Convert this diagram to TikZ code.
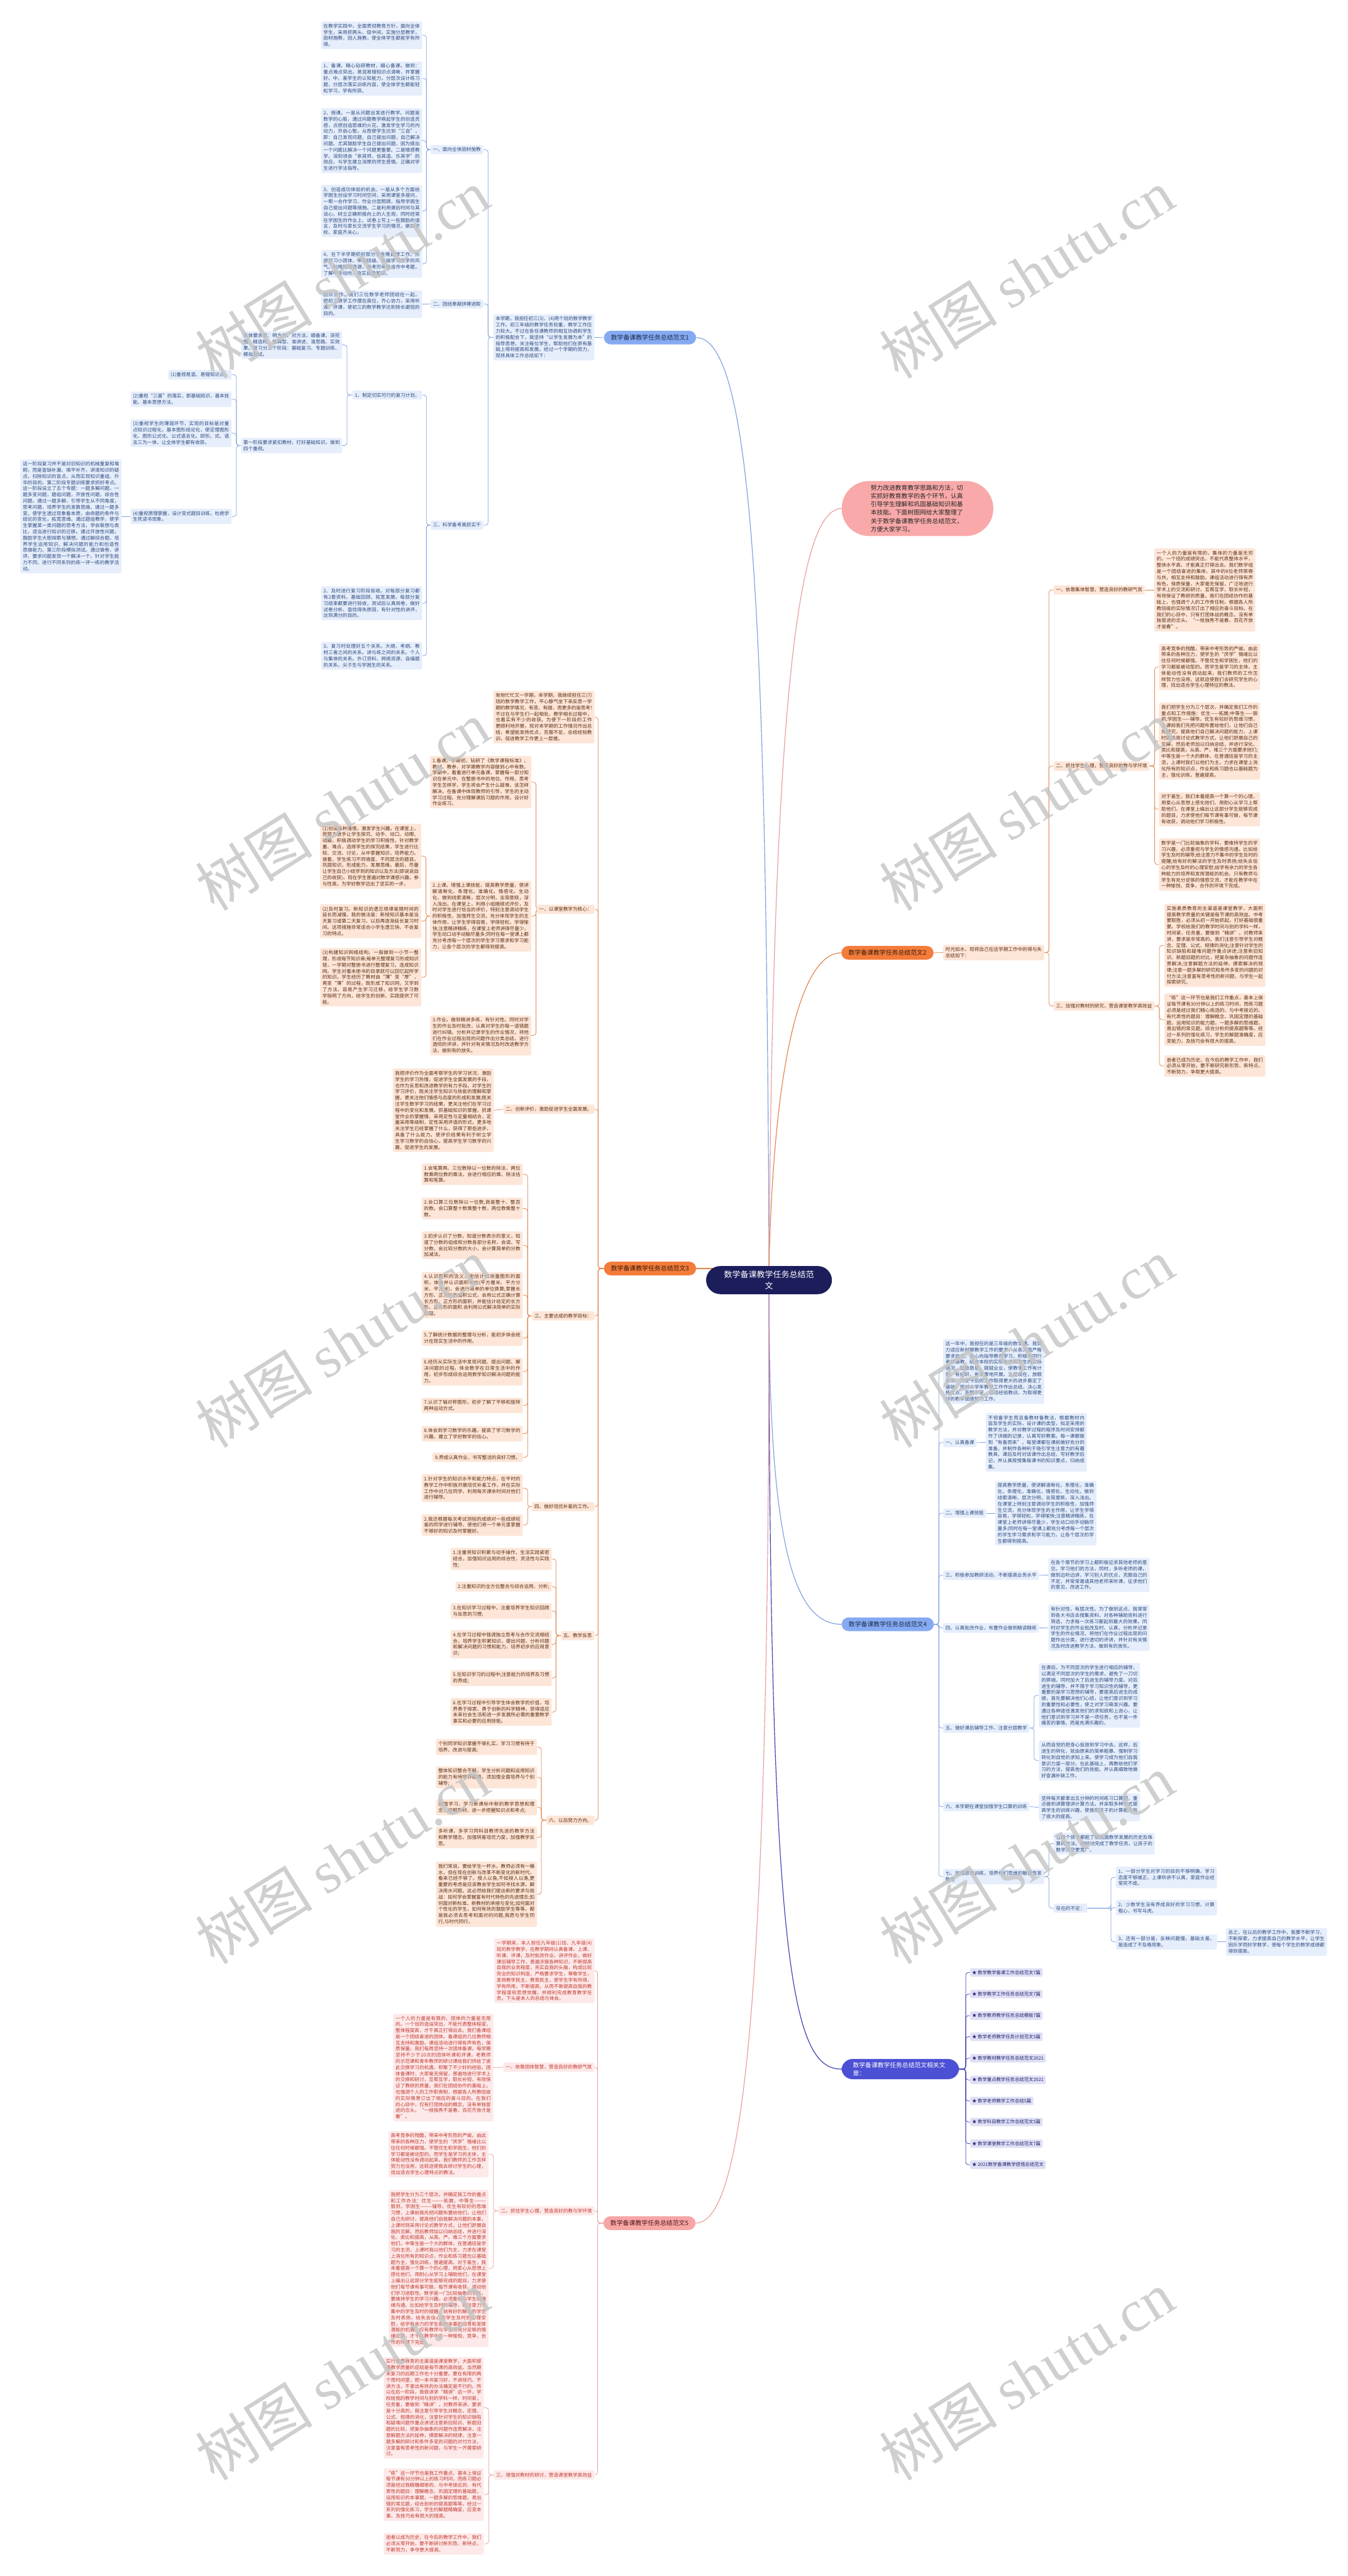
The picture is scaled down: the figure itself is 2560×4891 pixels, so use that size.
\documentclass[tikz,border=0pt]{standalone}
\usepackage{fontspec}
\setmainfont{Noto Sans CJK SC}
\newfontfamily\wmlatin{Liberation Serif}
\usetikzlibrary{positioning, calc}
\XeTeXlinebreaklocale "zh"
\XeTeXlinebreakskip = 0pt plus 1pt minus 0.45pt

\definecolor{blueFill}{HTML}{E6EEFC}
\definecolor{blueText}{HTML}{2C4A7C}
\definecolor{blueLine}{HTML}{7EA0E0}
\definecolor{blueMain}{HTML}{86AAF2}
\definecolor{orFill}{HTML}{FDE6D8}
\definecolor{orText}{HTML}{5C2E12}
\definecolor{orLine}{HTML}{E2844A}
\definecolor{orMain}{HTML}{F47C3B}
\definecolor{pkFill}{HTML}{FDE9E9}
\definecolor{pkText}{HTML}{C23A30}
\definecolor{pkLine}{HTML}{EA9C9C}
\definecolor{pkMain}{HTML}{F7A6A6}
\definecolor{navyMain}{HTML}{1C1E5C}
\definecolor{relMain}{HTML}{4C50D4}
\definecolor{relFill}{HTML}{E0E0F6}
\definecolor{relText}{HTML}{23236B}
\definecolor{relLine}{HTML}{3C40B4}
\definecolor{sumFill}{HTML}{F9A9A9}
\definecolor{wmGray}{HTML}{C4C4C4}

\newcommand{\fs}{\fontsize{9.1}{11.7}\selectfont}
\newcommand{\fm}{\fontsize{11.8}{15}\selectfont}

\pgfdeclarelayer{bg}
\pgfsetlayers{bg,main}

\tikzset{
  txtbox/.style={rounded corners=3pt, inner xsep=4.5pt, inner ysep=4.5pt, font=\fs, align=justify, text width=#1},
  txtbox/.default=183pt,
  txtlbl/.style={rounded corners=3pt, inner xsep=4.5pt, inner ysep=4.5pt, font=\fs},
  bbox/.style={txtbox=#1, fill=blueFill, text=blueText}, bbox/.default=183pt,
  blbl/.style={txtlbl, fill=blueFill, text=blueText},
  obox/.style={txtbox=#1, fill=orFill, text=orText}, obox/.default=183pt,
  olbl/.style={txtlbl, fill=orFill, text=orText},
  pbox/.style={txtbox=#1, fill=pkFill, text=pkText}, pbox/.default=181pt,
  plbl/.style={txtlbl, fill=pkFill, text=pkText},
  relitem/.style={txtlbl, fill=relFill, text=relText, inner xsep=4pt, inner ysep=4pt, font=\fontsize{8.8}{10}\selectfont},
  mainnode/.style={rounded corners=13pt, minimum height=26pt, minimum width=175pt, inner sep=0pt, font=\fm},
  bconn/.style={draw=blueLine, line width=0.9pt, rounded corners=5pt},
  oconn/.style={draw=orLine, line width=0.9pt, rounded corners=5pt},
  pconn/.style={draw=pkLine, line width=0.9pt, rounded corners=5pt},
  rconn/.style={draw=relLine, line width=0.9pt, rounded corners=5pt},
  wmark/.style={rotate=32, text=wmGray, opacity=0.8, inner sep=0pt, font=\fontsize{112}{112}\selectfont}
}

\begin{document}
\begin{tikzpicture}[x=1pt, y=-1pt]
\useasboundingbox (0,0) rectangle (2560,4891);
\begin{pgfonlayer}{bg}
  \fill[white] (0,0) rectangle (2560,4891);
\end{pgfonlayer}

% centre and summary
\node[fill=navyMain, text=white, rounded corners=27pt, text width=172pt, align=center,
      inner xsep=33.5pt, inner ysep=9pt, font=\fontsize{15.5}{21}\selectfont] (nc) at (1460.5,2430.5)
      {数学备课教学任务总结范\\文};
\node[fill=sumFill, text=black!85, rounded corners=52pt, text width=178pt, align=left,
      inner xsep=55pt, inner ysep=7.5pt, font=\fontsize{11.7}{15.7}\selectfont] (n0) at (1742.5,965.5)
      {努力改进教育教学思路和方法，切\\实抓好教育教学的各个环节，认真\\引导学生理解和巩固基础知识和基\\本技能。下面树图网给大家整理了\\关于数学备课教学任务总结范文，\\方便大家学习。};

% ---------------- 范文1 ----------------
\node[mainnode, fill=blueMain, text=blueText!60!black] (n1) at (1234.5,641) {数学备课教学任务总结范文1};
\node[bbox, anchor=east] (n1i) at (1129,640.5) {本学期，我担任初三(3)、(4)两个班的数学教学工作。初三年级的教学任务较重，教学工作压力较大。不过在各任课教师的相互协调和学生的积极配合下，我坚持“以学生发展为本”的指导思想，关注每位学生，帮助他们在原有基础上得到提高和发展。经过一个学期的努力，现将具体工作总结如下：};
\node[blbl, anchor=east] (n1a) at (918,284) {一、面向全体因材施教};
\node[blbl, anchor=east] (n1b) at (918,577) {二、团结奉献拼搏进取};
\node[blbl, anchor=east] (n1c) at (918,997) {三、科学备考真抓实干};
\node[bbox, anchor=east] (n1a1) at (802,67) {在教学实践中，全面贯彻教育方针，面向全体学生，采用抓两头、促中间，实施分层教学，因材施教，因人施教，使全体学生都能学有所得。};
\node[bbox, anchor=east] (n1a2) at (802,149) {1、备课。精心钻研教材，细心备课。做到：重点难点突出，易混易错知识点清晰，并掌握好、中、差学生的认知能力，分层次设计练习题，分层次落实训练内容，使全体学生都能轻松学习，学有所获。};
\node[bbox, anchor=east] (n1a3) at (802,267) {2、授课。一是从问题出发进行教学。问题是数学的心脏，通过问题教学唤起学生的创造灵感，点燃创造思维的火花，激发学生学习的内动力，开启心智。从而使学生达到“三自”，即：自己发现问题，自己提出问题，自己解决问题。尤其鼓励学生自己提出问题，因为提出一个问题比解决一个问题更重要。二是情感教学。深刻领会“亲其师、信其道、乐其学”的效应，与学生建立深厚的师生感情。正确对学生进行学法指导。};
\node[bbox, anchor=east] (n1a4) at (802,400.5) {3、创造成功体验的机会。一是从多个方面给学困生创设学习时间空间，采用课堂多提问，一帮一合作学习，作业分层照顾，指导学困生自己提出问题等措施。二是利用课后时间与其谈心，树立正确积极向上的人生观，同时经常在学困生的作业上、试卷上写上一些鼓励的语言，及时与家长交流学生学习的情况，做到学校、家庭齐关心。};
\node[bbox, anchor=east] (n1a5) at (802,501) {4、在下半学期抓好部分学生晚自修工作。形成学习小团体，带动班级、年级学习数学的风气。利用网络资源，参考历年各省市中考题，了解中考动向，充实自身知识。};
\node[bbox, anchor=east] (n1b1) at (802,577.5) {团队合作。我们三位数学老师团结在一起，把初三教学工作摆在首位，齐心协力，采用听课、评课，使初三的数学教学达到扬长避短的目的。};
\node[blbl, anchor=east] (n1c1) at (802,750) {1、制定切实可行的复习计划。};
\node[bbox, anchor=east] (n1c2) at (802,1145.5) {2、及时进行复习阶段验收。对每部分复习都有2套资料，基础回顾，拓宽发展。每部分复习结束都要进行验收，测试后认真阅卷，做好试卷分析、查找得失原因，有针对性的讲评，达到满分的目的。};
\node[bbox, anchor=east] (n1c3) at (802,1245) {3、复习时处理好五个关系。大纲、考纲、教材三者之间的关系。讲与练之间的关系。个人与集体的关系。外订资料、网络资源、自编题的关系。尖子生与学困生的关系。};
\node[bbox, anchor=east] (n1c1a) at (650,655) {具体要求是：明方向、对方法、细备课、深挖掘、精选材、强典型、准讲述、清思路、实效果。复习分三个阶段：基础复习、专题训练、模拟测试。};
\node[bbox, anchor=east] (n1c1b) at (650,846) {第一阶段要求紧扣教材，打好基础知识，做到四个重视。};
\node[blbl, anchor=east] (n1p1) at (440,711.5) {(1)重视易混、易错知识点。};
\node[bbox, anchor=east] (n1p2) at (440,758) {(2)重视“三基”的落实，即基础知识、基本技能、基本思想方法。};
\node[bbox, anchor=east] (n1p3) at (440,822.5) {(3)重视学生的薄弱环节，实现的目标是对重点知识过程化，基本图形结论化，使定理图形化、图形公式化、公式语言化，即形、式、语言三为一体，让全体学生都有收获。};
\node[bbox, anchor=east] (n1p4) at (440,980.5) {(4)重视原理掌握，设计变式题目训练，杜绝学生死读书现象。};
\node[bbox, anchor=east] (n1p4a) at (231,980.5) {这一阶段复习并不是对旧知识的机械重复和堆砌，而是查缺补漏、填平补齐，讲清知识的疑点，扫除知识的盲点，从而实现知识重组、升华的目的。第二阶段专题训练要求抓好考点。这一阶段设立了五个专题：一题多解问题，一题多变问题，题组问题，开放性问题，综合性问题。通过一题多解，引导学生从不同角度，思考问题，培养学生的发散思维。通过一题多变，使学生透过现象看本质，由命题的条件与结论的变化，拓宽思维。通过题组教学，使学生掌握某一类问题的思考方法，学会联想与类比，适当进行知识的迁移。通过开放性问题，鼓励学生大胆探索与猜想。通过解综合题，培养学生运用知识、解决问题的能力和创造性思维能力。第三阶段模拟测试。通过做卷，讲评，要求问题发现一个解决一个。针对学生能力不同，进行不同系列的练一评一练的教学活动。};

% ---------------- 范文2 ----------------
\node[mainnode, fill=orMain, text=orText!60!black] (n2) at (1685.5,1809) {数学备课教学任务总结范文2};
\node[obox, anchor=west] (n2i) at (1791,1808.5) {时光如水，现将自己在这学期工作中的得与失总结如下：};
\node[olbl, anchor=west] (n2a) at (2001,1120) {一、依靠集体智慧，营造良好的教研气氛};
\node[obox, anchor=west] (n2a1) at (2192,1120) {一个人的力量是有限的，集体的力量是无穷的。一个班的成绩突出，不能代表整体水平，整体水平高，才能真正打得出去。我们数学组是一个团结奋进的集体，其中的8位老师荣辱与共，相互支持和鼓励。课组活动进行得有声有色，保质保量，大家毫无保留，广泛地进行学术上的交流和研讨，互帮互学，取长补短，有效保证了教研的质量。我们在团结协作的基础上，也强调个人的工作责任制，根据各人所教班级的实际情况订出了相应的奋斗目标。在我们的心目中，只有打团体战的概念，没有单独冒进的念头。“一枝独秀不是春，百花齐放才是春”。};
\node[olbl, anchor=west] (n2b) at (2001,1454.5) {二、抓住学生心理，营造良好的教与学环境};
\node[obox, anchor=west] (n2b1) at (2201,1266.5) {高考竞争的残酷，带来中考形势的严峻。由此带来的各种压力，使学生的“厌学”情绪比以往任何时候都强。不管优生和学困生，他们的学习都是被动型的。而学生是学习的主体，主体能动性没有调动起来，我们教师的工作怎样努力也没用，这就迫使我们去研究学生的心理，找出适合学生心理特征的教法。};
\node[obox, anchor=west] (n2b2) at (2201,1407) {我们把学生分为三个层次，并确定我们工作的重点和工作措施：优生——拓展;中等生——狠抓;学困生——辅导。优生有较好的思维习惯，上课前我们先把问题布置给他们，让他们自己先研究，提高他们自己解决问题的能力，上课时则采用讨论式教学方式，让他们舒展自己的见解，然后老师加以归纳总结，并进行深化、类比和提高，从高、严、难三个方面要求他们;中等生是一个大的群体，在普通班是学习的主流，上课时我们以他们为主，力求在课堂上消化所有的知识点，作业和练习题也以基础题为主，强化训练，普遍提高。};
\node[obox, anchor=west] (n2b3) at (2201,1536.5) {对于差生，我们本着提高一个算一个的心理，用爱心从思想上感化他们，用耐心从学习上帮助他们，在课堂上编出让这部分学生能够完成的题目，力求使他们每节课有事可做，每节课有收获，调动他们学习积极性。};
\node[obox, anchor=west] (n2b4) at (2201,1641.5) {数学是一门比较抽象的学科，要维持学生的学习兴趣，必须重视与学生的情感沟通。比如给学生及时的辅导;给注意力不集中的学生及时的提醒;给有好的解法的学生及时表扬;给失去信心的学生及时的心理安慰;给学有余力的学生各种能力的培养和发挥潜能的机会。只有教师与学生有充分足够的情感交流，才能在教学中在一种愉悦、竞争、合作的环境下完成。};
\node[olbl, anchor=west] (n2c) at (2001,1910) {三、加强对教材的研究，营造课堂教学高效益};
\node[obox, anchor=west] (n2c1) at (2211,1795) {实施素质教育的主渠道是课堂教学，大面积提高教学质量的关键是每节课的高效益。中考要取胜，必须从初一开始抓起，打好基础很重要。学校给我们的教学时间与别的学科一样，时间紧，任务重，要做到“精讲”。对教师来讲，要求是非常高的。我们注意引导学生对概念、定理、公式、规律的消化;注意针对学生的知识缺陷和疑难问题作重点讲述;注意新旧知识、新题旧题的对比，把复杂抽象的问题作连贯解决;注意解题方法的延伸，摸索解决的规律;注意一题多解的研究和条件多变的问题的对付方法;注意富有思考性的新问题，与学生一起探索研究。};
\node[obox, anchor=west] (n2c2) at (2211,1936) {“练”这一环节也是我们工作重点，基本上保证每节课有30分钟以上的练习时间，而练习题必须是经过我们精心挑选的、与中考接近的、有代表性的题目：理解概念、巩固定理的基础题，运用知识的能力题，一题多解的思维题，易出错的常见题，综合分析的提高题等等。经过一系列的强化练习，学生的解题准确度，应变能力，及技巧会有很大的提高。};
\node[obox, anchor=west] (n2c3) at (2211,2024) {逝者已成为历史，在今后的教学工作中，我们必须从零开始，要不断研究新形势、新特点，不断努力，争取更大提高。};

% ---------------- 范文3 ----------------
\node[mainnode, fill=orMain, text=orText!60!black] (n3) at (1234.5,2408.5) {数学备课教学任务总结范文3};
\node[obox, anchor=east] (n3i) at (1129,1361.5) {匆匆忙忙又一学期，本学期，我继续担任三(7)班的数学教学工作，平心静气坐下来反思一学期的教学情况，有苦、有甜，而更多的是思考!不过在与学生们一起相处、教学相长过程中，也着实有不少的收获。为使下一阶段的工作更顺利地开展，现对本学期的工作情况作出总结，希望能发扬优点，克服不足，总结经验教训，促进教学工作更上一层楼。};
\node[olbl, anchor=east] (n3a) at (1129,1726.5) {一、以课堂教学为核心：};
\node[obox, anchor=east] (n3a1) at (1009,1485) {1.备课。学期初，钻研了《数学课程标准》、教材、教参，对学期教学内容做到心中有数。学期中，着重进行单元备课，掌握每一部分知识在单元中、在整册书中的地位、作用。思考学生怎样学，学生将会产生什么疑难，该怎样解决。在备课中体现教师的引导，学生的主动学习过程。充分理解课后习题的作用，设计好作业练习。};
\node[obox, anchor=east] (n3a2) at (1009,1739.5) {2.上课。增强上课技能，提高教学质量，使讲解清晰化，条理化，准确化，情感化，生动化，做到线索清晰，层次分明，言简意赅，深入浅出。在课堂上，利用小组捆绑式评价，及时对学生进行恰当的评价，特别注意调动学生的积极性，加强师生交流，充分体现学生的主体作用，让学生学得容易，学得轻松，学得愉快;注意精讲精练，在课堂上老师讲得尽量少，学生动口动手动脑尽量多;同时在每一堂课上都充分考虑每一个层次的学生学习需求和学习能力，让各个层次的学生都得到提高。};
\node[obox, anchor=east] (n3a3) at (1009,1966) {3.作业。做到精讲多练，有针对性。同时对学生的作业及时批改，认真对学生的每一道错题进行纠错。分析并记录学生的作业情况，将他们在作业过程出现的问题作出分类总结，进行透彻的评讲，并针对有关情况及时改进教学方法，做到有的放矢。};
\node[obox, anchor=east] (n3q1) at (800,1625.5) {(1)创设各种情境，激发学生兴趣。在课堂上，我努力放手让学生探究、动手、动口、动眼、动脑，积极调动学生的学习积极性，针对教学重、难点，选择学生的探究结果，学生进行比较、交流、讨论，从中掌握知识，培养能力。接着，学生练习不同坡度、不同层次的题目，巩固知识，形成能力，发展思维。最后，尽量让学生自己小结学到的知识以及方法(即说说自己的收获)。现在学生普遍对数学课感兴趣，参与性高，为学好数学迈出了坚实的一步。};
\node[obox, anchor=east] (n3q2) at (800,1749) {(2)及时复习。新知识的遗忘规律是随时间的延长而减慢。我的做法是：新授知识基本是当天复习或第二天复习，以后再逐渐延长复习时间。这项措施非常适合小学生遗忘快、不会复习的特点。};
\node[obox, anchor=east] (n3q3) at (800,1855.5) {(3)构建知识网络结构。一般做到一小节一整理，形成每节知识串;每单元整理复习形成知识链，一学期对整册书进行整理复习，连成知识网。学生对着本册书的目录就可以回忆起所学的知识。学生经历了教材由“薄”变“厚”，再变“薄”的过程，既形成了知识网，又学到了方法，容易产生学习迁移，给学生学习数学指明了方向，给学生的创新、实践提供了可能。};
\node[olbl, anchor=east] (n3b) at (1129,2106) {二、创新评价，激励促进学生全面发展。};
\node[obox, anchor=east] (n3b1) at (938,2108) {我把评价作为全面考察学生的学习状况，激励学生的学习热情，促进学生全面发展的手段，也作为反思和改进教学的有力手段。对学生的学习评价，既关注学生知识与技能的理解和掌握，更关注他们情感与态度的形成和发展;既关注学生数学学习的结果，更关注他们在学习过程中的变化和发展。抓基础知识的掌握，抓课堂作业的掌握情，采用定性与定量相结合，定量采用等级制，定性采用评语的形式，更多地关注学生已经掌握了什么，获得了那些进步，具备了什么能力。使评价结果有利于树立学生学习数学的自信心，提高学生学习数学的兴趣，促进学生的发展。};
\node[olbl, anchor=east] (n3c) at (1129,2498.5) {三、主要达成的教学目标：};
\node[obox, anchor=east] (n3c1) at (993,2229.5) {1.会笔算两、三位数除以一位数的除法，两位数乘两位数的乘法，会进行相应的乘、除法估算和笔算。};
\node[obox, anchor=east] (n3c2) at (993,2294.5) {2.会口算三位数除以一位数,商是整十、整百的数。会口算整十数乘整十数，两位数乘整十数。};
\node[obox, anchor=east] (n3c3) at (993,2364.5) {3.初步认识了分数，知道分数表示的意义，知道了分数的组成和分数各部分名称，会读、写分数，会比较分数的大小，会计算简单的分数加减法。};
\node[obox, anchor=east] (n3c4) at (993,2459) {4.认识面积的含义，能估计和测量图形的面积，体会并认识面积单位(平方厘米、平方分米、平方米)，会进行简单的单位换算;掌握长方形、正方形的面积公式，会用公式正确计算长方形、正方形的面积，并能估计给定的长方形、正方形的面积.会利用公式解决简单的实际问题。};
\node[obox, anchor=east] (n3c5) at (993,2540.5) {5.了解统计数据的整理与分析，能初步体会统计在现实生活中的作用。};
\node[obox, anchor=east] (n3c6) at (993,2604) {6.经历从实际生活中发现问题、提出问题、解决问题的过程，体会数学在日常生活中的作用，初步形成综合运用数学知识解决问题的能力。};
\node[obox, anchor=east] (n3c7) at (993,2668.5) {7.认识了轴对称图形，初步了解了平移和旋转两种运动方式。};
\node[obox, anchor=east] (n3c8) at (993,2722) {8.体会到学习数学的乐趣，提高了学习数学的兴趣，建立了学好数学的信心。};
\node[olbl, anchor=east] (n3c9) at (993,2767) {9.养成认真作业、书写整洁的良好习惯。};
\node[olbl, anchor=east] (n3d) at (1129,2860.5) {四、做好培优补差的工作。};
\node[obox, anchor=east] (n3d1) at (993,2825.5) {1.针对学生的知识水平和能力特点，在平时的教学工作中积极开展培优补差工作，并在实际工作中对几位同学，利用每天课余时间对他们进行辅导。};
\node[obox, anchor=east] (n3d2) at (993,2895.5) {2.我还根据每次考试测验的成绩对一些成绩较差的同学进行辅导，使他们将一个单元里掌握不够好的知识及时掌握好。};
\node[olbl, anchor=east] (n3e) at (1129,3105.5) {五、教学反思};
\node[obox, anchor=east] (n3e1) at (1048,2960) {1.注重将知识积累与动手操作，生活实践紧密结合，加强知识运用的综合性，灵活性与实践性;};
\node[olbl, anchor=east] (n3e2) at (1048,3012.5) {2.注重知识的全方位整合与综合运用、分析;};
\node[obox, anchor=east] (n3e3) at (1048,3059) {3.在知识学习过程中，注重培养学生知识回顾与反思的习惯;};
\node[obox, anchor=east] (n3e4) at (1048,3122) {4.在学习过程中强调独立思考与合作交流相结合，培养学生积累知识，提出问题，分析问题和解决问题的习惯和能力，培养初步的应用意识;};
\node[obox, anchor=east] (n3e5) at (1048,3186) {5.在知识学习的过程中;注意能力的培养及习惯的养成;};
\node[obox, anchor=east] (n3e6) at (1048,3250.5) {6.在学习过程中引导学生体会数学的价值，培养勇于探索、勇于创新的科学精神，获得适应未来社会生活和进一步发展所必需的重要数学事实和必要的应用技能。};
\node[olbl, anchor=east] (n3f) at (1129,3456) {六、以后努力方向。};
\node[obox, anchor=east] (n3f1) at (1020,3317) {个别同学知识掌握不够扎实，学习习惯有待于培养、改进与提高;};
\node[obox, anchor=east] (n3f2) at (1020,3374.5) {整体知识整合不够，学生分析问题和运用知识的能力有待培养提高，须加强全面培养与个别辅导;};
\node[obox, anchor=east] (n3f3) at (1020,3431.5) {加强学习，学习新课标中新的教学思想和理念，挖掘教材，进一步把握知识点和考点;};
\node[obox, anchor=east] (n3f4) at (1020,3488.5) {多听课，多学习同科目教师先进的教学方法和教学理念。加强转差培优力度，加强教学反思。};
\node[obox, anchor=east] (n3f5) at (1020,3596.5) {我们常说，要给学生一杯水，教师必须有一桶水，但在现在创新与改革不断变化的新时代，看来已经不够了。授人以鱼,不如授人以渔,更重要的考虑是应该教会学生如何寻找水源，解决用水问题。这必然给我们提出新的要求与挑战：如何学会掌握富有时代特色的先进理念;如何面对新标准、新教材的承接与变化;如何面对个性化的学生，如何有效的鼓励学生等等，都是我必须去思考和面对的问题,我愿与学生同行,与时代同行。};

% ---------------- 范文4 ----------------
\node[mainnode, fill=blueMain, text=blueText!60!black] (n4) at (1686,3084) {数学备课教学任务总结范文4};
\node[bbox, anchor=west] (n4i) at (1791,2604) {这一年中，我担任的是三年级的数学课。我努力适应新时期教学工作的要求，从各方面严格要求自己，虚心向指导教师学习，积极向同行老师请教，结合本校的实际条件和学生的实际情况，勤勤恳恳，兢兢业业，使教学工作有计划，有组织，有步骤地开展。立足现在，放眼未来，为使今后的工作取得更大的进步奠定了基础，现对本学年教学工作作出总结，决心发扬优点，克服不足，总结经验教训，为取得更好的教学成绩努力工作。};
\node[blbl, anchor=west] (n4a) at (1791,2739) {一、认真备课};
\node[bbox, anchor=west] (n4a1) at (1872,2738.5) {不但备学生而且备教材备教法，根据教材内容及学生的实际，设计课的类型，拟定采用的教学方法，并对教学过程的程序及时间安排都作了详细的记录，认真写好教案。每一课都做到“有备而来”，每堂课都在课前做好充分的准备，并制作各种利于吸引学生注意力的有趣教具，课后及时对该课作出总结，写好教学后记，并认真按搜集每课书的知识要点，归纳成集。};
\node[blbl, anchor=west] (n4b) at (1791,2873) {二、增强上课技能};
\node[bbox, anchor=west] (n4b1) at (1890,2873) {提高教学质量，使讲解清晰化，条理化，准确化，条理化，准确化，情感化，生动化，做到线索清晰，层次分明，言简意赅，深入浅出。在课堂上特别注意调动学生的积极性，加强师生交流，充分体现学生的主作用，让学生学得容易，学得轻松，学得愉快;注意精讲精练，在课堂上老师讲得尽量少，学生动口动手动脑尽量多;同时在每一堂课上都充分考虑每一个层次的学生学习需求和学习能力，让各个层次的学生都得到提高。};
\node[blbl, anchor=west] (n4c) at (1791,2991) {三、积极参加教研活动，不断提高业务水平};
\node[bbox, anchor=west] (n4c1) at (1991,2990.5) {在各个章节的学习上都积极征求其他老师的意见，学习他们的方法，同时，多听老师的课，做到边听边讲，学习别人的优点，克服自己的不足，并常常邀请其他老师来听课，征求他们的意见，改进工作。};
\node[blbl, anchor=west] (n4d) at (1791,3091) {四、认真批改作业，布置作业做到精读精练};
\node[bbox, anchor=west] (n4d1) at (1991,3090.5) {有针对性，有层次性。为了做到这点，我常常到各大书店去搜集资料，对各种辅助资料进行筛选，力求每一次练习都起到最大的效果。同时对学生的作业批改及时、认真，分析并记录学生的作业情况，将他们在作业过程出现的问题作出分类，进行透切的评讲，并针对有关情况及时改进教学方法，做到有的放矢。};
\node[blbl, anchor=west] (n4e) at (1791,3281) {五、做好课后辅导工作，注意分层教学};
\node[bbox, anchor=west] (n4e1) at (1973,3219) {在课后，为不同层次的学生进行相应的辅导，以满足不同层次的学生的需求，避免了一刀切的弊端，同时加大了后进生的辅导力度。对后进生的辅导，并不限于学习知识性的辅导，更重要的是学习思想的辅导，要提高后进生的成绩，首先要解决他们心结，让他们意识到学习的重要性和必要性，使之对学习萌发兴趣。要通过各种途径激发他们的求知欲和上进心，让他们意识到学习并不是一项任务，也不是一件痛苦的事情。而是充满乐趣的。};
\node[bbox, anchor=west] (n4e2) at (1973,3342.5) {从而自觉的把身心投放到学习中去。这样，后进生的转化，就由原来的简单粗暴、强制学习转化到自觉的求知上来。使学习成为他们自我意识力度一部分。在此基础上，再教给他们学习的方法，提高他们的技能。并认真细致地做好查漏补缺工作。};
\node[blbl, anchor=west] (n4f) at (1791,3430) {六、本学期在课堂加强学生口算的训练};
\node[bbox, anchor=west] (n4f1) at (1973,3431.5) {坚持每天都拿出五分钟的时间练习口算题，重点做到讲算理讲计算方法。并采取多种形式提高学生的训练兴趣，使我班孩子的计算能力有了很大的提高。};
\node[bbox, anchor=west] (n4g) at (1791,3563) {七、加强思想训练，培养他们思维的敏捷性发散性};
\node[bbox, anchor=west] (n4g1) at (2001,3500.5) {让每个孩子都能了解我国数学发展的历史及珠算的方法。很好地完成了教学任务，让孩子的数学天空更宽广。};
\node[blbl, anchor=west] (n4h) at (2001,3623) {存在的不足：};
\node[bbox, anchor=west] (n4h1) at (2119,3564.5) {1、一部分学生对学习的目的不够明确，学习态度不够端正，上课听讲不认真，家庭作业经常完不成。};
\node[bbox, anchor=west] (n4h2) at (2119,3622) {2、少数学生没有养成良好的学习习惯，计算粗心，书写马虎。};
\node[bbox, anchor=west] (n4h3) at (2119,3687) {3、还有一部分是，反映问题慢，基础太差，是造成了不及格现象。};
\node[bbox, anchor=west] (n4h3a) at (2328,3687) {总之，在以后的教学工作中，我要不断学习，不断探索，力求提高自己的教学水平，让学生因乐学而好学数学，使每个学生的数学成绩都得到提高。};

% ---------------- 相关文章 ----------------
\node[fill=relMain, text=white, rounded corners=21pt, text width=180pt, align=left, inner xsep=21.7pt,
      inner ysep=6pt, font=\fontsize{11.7}{15.5}\selectfont, anchor=west] (n6) at (1598,3928.5)
      {数学备课教学任务总结范文相关文\\章：};
\foreach \i/\yy/\t in {1/3745/数学教学备课工作总结范文7篇, 2/3786/数学教学工作任务总结范文7篇,
    3/3827/数学教师教学任务总结模板7篇, 4/3867/数学老师教学任务计划范文5篇,
    5/3908/数学教材教学任务总结范文2021, 6/3949/数学重点教学任务总结范文2021,
    7/3989/数学老师教学工作总结5篇, 8/4029/数学科目教学工作总结范文5篇,
    9/4070/数学课堂教学工作总结范文7篇, 10/4110/2021数学备课教学感悟总结范文}
  \node[relitem, anchor=west] (r\i) at (1842,\yy) {★ \t};

% ---------------- 范文5 ----------------
\node[mainnode, fill=pkMain, text=pkText!40!black] (n5) at (1233.5,4221) {数学备课教学任务总结范文5};
\node[pbox, anchor=east] (n5i) at (1129,3742) {一学期来，本人担任九年级(1)班、九年级(4)班的数学教学，在教学期间认真备课、上课、听课、评课，及时批改作业、讲评作业，做好课后辅导工作，普遍涉猎各种知识，不断提高自我的业务程度，充实自我的头脑，构成比较完全的知识构造，严格要求学生，尊敬学生，发扬教学民主，教育民主，使学生学有所得，学有所用，不断提高，从而不断提高自我的教学程度和思想觉醒，并顺利完成教育教学任务。下头是本人的总结与体会。};
\node[plbl, anchor=east] (n5a) at (1129,3925) {一、依靠团体智慧，营造良好的教研气氛};
\node[pbox, anchor=east] (n5a1) at (937,3925.5) {一个人的力量是有限的，团体的力量是无限的。一个班的造诣突出，不能代表整体程度，整体程度高，才干真正打得出去。我们备课组是一个团结奋进的团体，备课组的几位教师相互支持和激励。课组活动进行得有声有色，保质保量。我们每周坚持一次团体备课，每学期坚持不少于20次的团体听课和评课，老教师的示范课和青年教师的研讨课给我们供给了彼此交换学习的机遇，积聚了不少好的经验。团体备课时，大家毫无保留，普遍地进行学术上的交换和研讨，互帮互学，取长补短，有效保证了教研的质量。我们在团结协作的基础上，也强调个人的工作职责制，根据各人所教班级的实际情景订出了相应的奋斗目的。在我们的心目中，仅有打团体战的概念，没有单独冒进的念头。“一枝独秀不是春，百花齐放才是春”。};
\node[plbl, anchor=east] (n5b) at (1129,4197.5) {二、抓住学生心理，营造良好的教与学环境};
\node[pbox, anchor=east] (n5b1) at (928,4090) {高考竞争的残酷，带来中考形势的严峻。由此带来的各种压力，使学生的“厌学”情绪比以往任何时候都强。不管优生和学困生，他们的学习都是被动型的。而学生是学习的主体，主体能动性没有调动起来，我们教师的工作怎样努力也没用，这就迫使我去研讨学生的心理，找出适合学生心理特点的教法。};
\node[pbox, anchor=east] (n5b2) at (928,4307) {我把学生分为三个层次，并确定我工作的重点和工作办法：优生———拓展，中等生———狠抓，学困生———辅导。优生有较好的思维习惯，上课前我先把问题布置给他们，让他们自己先研讨，提高他们自我解决问题的本事，上课时则采用讨论式教学方式，让他们舒展自我的见解，然后教师加以归纳总结，并进行深化、类比和提高，从高、严、难三个方面要求他们。中等生是一个大的群体，在普通班是学习的主流，上课时我以他们为主，力求在课堂上消化所有的知识点，作业和练习题也以基础题为主，强化训练，普遍提高。对于差生，我本着提高一个算一个的心理，用爱心从思想上感化他们，用耐心从学习上辅助他们，在课堂上编出让这部分学生能够完成的题目，力求使他们每节课有事可做，每节课有收获，调动他们学习进取性。数学是一门比较抽象的学科，要维持学生的学习兴趣，必须重视与学生的情绪沟通。比如给学生及时的辅导，给注意力不集中的学生及时的提醒，给有好的解法的学生及时表扬，给失去信心的学生及时的心理安慰，给学有余力的学生各种本事的培育和发挥潜能的机遇。仅有教师与学生有充分足够的情绪交换，才干在教学中在一种愉悦、竞争、合作的环境下完成。};
\node[plbl, anchor=east] (n5c) at (1129,4699) {三、增强对教材的研讨，营造课堂教学高效益};
\node[pbox, anchor=east] (n5c1) at (919,4571.5) {实行素质教育的主渠道是课堂教学，大面积提高教学质量的症结是每节课的高效益。当然期末复习的后期工作也十分重要。要在有限的两个周时间里，把一本书复习好，不讲技巧、不讲方法，不拿出有效的办法确定是不行的。所以在后一阶段，我很讲求“精讲”这一环，学校给我的教学时间与别的学科一样，时间紧，任务重，要做到“精讲”，对教师来讲，要求是十分高的。我注意引导学生对概念、定理、公式、规律的消化，注意针对学生的知识缺陷和疑难问题作重点讲述注意新旧知识、新题旧题的比较，把复杂抽象的问题作连贯解决，注意解题方法的延伸，摸索解决的规律，注意一题多解的研讨和条件多变的问题的对付方法，注意富有思考性的新问题，与学生一齐摸索研讨。};
\node[pbox, anchor=east] (n5c2) at (919,4736.5) {“练”这一环节也是我工作重点，基本上保证每节课有30分钟以上的练习时间，而练习题必须是经过我精雕细琢的、与中考接近的、有代表性的题目：理解概念、巩固定理的基础题，运用知识的本事题，一题多解的思维题，易出错的常见题，综合剖析的提高题等等。经过一系列的强化练习，学生的解题精确度，应变本事，及技巧会有很大的提高。};
\node[pbox, anchor=east] (n5c3) at (919,4830) {逝者以成为历史，在今后的教学工作中，我们必须从零开始，要不断研讨新形势、新特点，不断努力，争夺更大提高。};

% ---------------- connectors ----------------
\begin{pgfonlayer}{bg}
  \draw[blueLine, line width=1.4pt] (nc.north) .. controls +(-5,-1200) and +(110,0) .. (n1.east);
  \draw[pkLine, line width=1.4pt] (nc.north) .. controls +(8,-1100) and +(-80,0) .. (n0.west);
  \draw[orLine, line width=1.4pt] (nc.north) .. controls +(10,-420) and +(-70,0) .. (n2.west);
  \draw[orLine, line width=1.4pt] (n3.east) -- ([xshift=20pt]nc.west |- n3.east);
  \draw[blueLine, line width=1.4pt] (nc.south) .. controls +(0,480) and +(-90,0) .. (n4.west);
  \draw[relLine, line width=1.4pt] (nc.south) .. controls +(0,1300) and +(-90,0) .. (n6.west);
  \draw[pkLine, line width=1.4pt] (nc.south) .. controls +(0,1350) and +(90,0) .. (n5.east);

  % 范文1
  \draw[bconn] (n1.west) -- (n1i.east);
  \foreach \ch in {n1a,n1b,n1c}
    \draw[bconn] (n1i.west) -| ([xshift=9pt]\ch.east) -- (\ch.east);
  \foreach \ch in {n1a1,n1a2,n1a3,n1a4,n1a5}
    \draw[bconn] (n1a.west) -| ([xshift=8pt]\ch.east) -- (\ch.east);
  \draw[bconn] (n1b.west) -- (n1b1.east);
  \foreach \ch in {n1c1,n1c2,n1c3}
    \draw[bconn] (n1c.west) -| ([xshift=8pt]\ch.east) -- (\ch.east);
  \foreach \ch in {n1c1a,n1c1b}
    \draw[bconn] (n1c1.west) -| ([xshift=9pt]\ch.east) -- (\ch.east);
  \foreach \ch in {n1p1,n1p2,n1p3,n1p4}
    \draw[bconn] (n1c1b.west) -| ([xshift=9pt]\ch.east) -- (\ch.east);
  \draw[bconn] (n1p4.west) -- (n1p4a.east);

  % 范文2
  \draw[oconn] (n2.east) -- (n2i.west);
  \foreach \ch in {n2a,n2b,n2c}
    \draw[oconn] (n2i.east) -| ([xshift=-9pt]\ch.west) -- (\ch.west);
  \draw[oconn] (n2a.east) -- (n2a1.west);
  \foreach \ch in {n2b1,n2b2,n2b3,n2b4}
    \draw[oconn] (n2b.east) -| ([xshift=-8pt]\ch.west) -- (\ch.west);
  \foreach \ch in {n2c1,n2c2,n2c3}
    \draw[oconn] (n2c.east) -| ([xshift=-9pt]\ch.west) -- (\ch.west);

  % 范文3
  \foreach \ch in {n3i,n3a,n3b,n3c,n3d,n3e,n3f}
    \draw[oconn] (n3.west) -| ([xshift=7pt]\ch.east) -- (\ch.east);
  \foreach \ch in {n3a1,n3a2,n3a3}
    \draw[oconn] (n3a.west) -| ([xshift=9pt]\ch.east) -- (\ch.east);
  \foreach \ch in {n3q1,n3q2,n3q3}
    \draw[oconn] (n3a2.west) -| ([xshift=9pt]\ch.east) -- (\ch.east);
  \draw[oconn] (n3b.west) -- (n3b1.east);
  \foreach \ch in {n3c1,n3c2,n3c3,n3c4,n3c5,n3c6,n3c7,n3c8,n3c9}
    \draw[oconn] (n3c.west) -| ([xshift=9pt]\ch.east) -- (\ch.east);
  \foreach \ch in {n3d1,n3d2}
    \draw[oconn] (n3d.west) -| ([xshift=9pt]\ch.east) -- (\ch.east);
  \foreach \ch in {n3e1,n3e2,n3e3,n3e4,n3e5,n3e6}
    \draw[oconn] (n3e.west) -| ([xshift=8pt]\ch.east) -- (\ch.east);
  \foreach \ch in {n3f1,n3f2,n3f3,n3f4,n3f5}
    \draw[oconn] (n3f.west) -| ([xshift=8pt]\ch.east) -- (\ch.east);

  % 范文4
  \foreach \ch in {n4i,n4a,n4b,n4c,n4d,n4e,n4f,n4g}
    \draw[bconn] (n4.east) -| ([xshift=-8pt]\ch.west) -- (\ch.west);
  \draw[bconn] (n4a.east) -- (n4a1.west);
  \draw[bconn] (n4b.east) -- (n4b1.west);
  \draw[bconn] (n4c.east) -- (n4c1.west);
  \draw[bconn] (n4d.east) -- (n4d1.west);
  \foreach \ch in {n4e1,n4e2}
    \draw[bconn] (n4e.east) -| ([xshift=-9pt]\ch.west) -- (\ch.west);
  \draw[bconn] (n4f.east) -- (n4f1.west);
  \foreach \ch in {n4g1,n4h}
    \draw[bconn] (n4g.east) -| ([xshift=-9pt]\ch.west) -- (\ch.west);
  \foreach \ch in {n4h1,n4h2,n4h3}
    \draw[bconn] (n4h.east) -| ([xshift=-9pt]\ch.west) -- (\ch.west);
  \draw[bconn] (n4h3.east) -- (n4h3a.west);

  % 相关文章
  \foreach \i in {1,...,10}
    \draw[rconn] (n6.east) -| ([xshift=-8pt]r\i.west) -- (r\i.west);

  % 范文5
  \foreach \ch in {n5i,n5a,n5b,n5c}
    \draw[pconn] (n5.west) -| ([xshift=6pt]\ch.east) -- (\ch.east);
  \draw[pconn] (n5a.west) -- (n5a1.east);
  \foreach \ch in {n5b1,n5b2}
    \draw[pconn] (n5b.west) -| ([xshift=9pt]\ch.east) -- (\ch.east);
  \foreach \ch in {n5c1,n5c2,n5c3}
    \draw[pconn] (n5c.west) -| ([xshift=9pt]\ch.east) -- (\ch.east);
\end{pgfonlayer}

% watermarks
\foreach \wx/\wy in {650/520, 1950/520, 650/1530, 1950/1530, 650/2550, 1950/2550,
                    650/3530, 1950/3530, 650/4510, 1950/4510}
  \node[wmark] (wm\wx\wy) at (\wx,\wy) {树图 {\wmlatin shutu.cn}};
\end{tikzpicture}
\end{document}
